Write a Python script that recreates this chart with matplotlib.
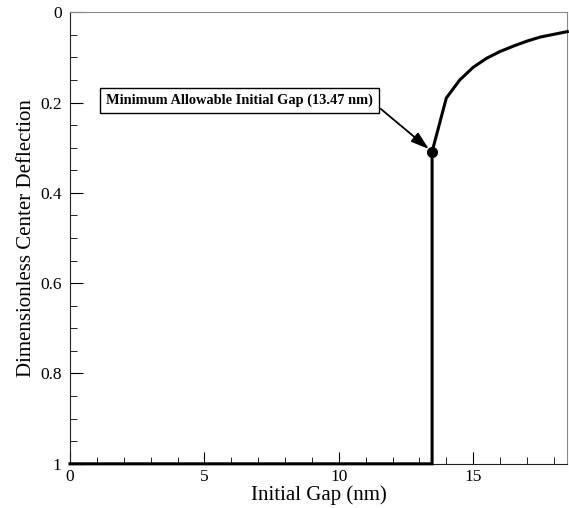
import numpy as np
import matplotlib.pyplot as plt
from matplotlib.ticker import MultipleLocator

plt.rcParams['font.family'] = ['Liberation Serif', 'DejaVu Serif']

# collapsed branch (deflection = 1) up to the minimum gap
gap_flat = [0.0, 13.47]
defl_flat = [1.0, 1.0]

# stable branch above the minimum allowable gap
gap_stable = [13.47, 14.0, 14.5, 15.0, 15.5, 16.0, 16.5, 17.0, 17.5, 18.0, 18.5]
defl_stable = [0.309, 0.19, 0.150, 0.122, 0.102, 0.087, 0.075, 0.064, 0.055, 0.049, 0.043]

min_gap = 13.47
min_defl = 0.309
note = 'Minimum Allowable Initial Gap (13.47 nm)'

fig = plt.figure(figsize=(5.69, 5.08), dpi=100)
ax = fig.add_axes([0.123, 0.087, 0.874, 0.889])

x = gap_flat + [min_gap] + gap_stable[1:]
y = defl_flat + [min_defl] + defl_stable[1:]
ax.plot(x, y, color='black', linewidth=2.2, solid_joinstyle='miter', clip_on=False, zorder=3)
ax.plot([min_gap], [min_defl], 'o', color='black', markersize=7, zorder=4)

# label box and arrow from its right edge to the point
ax.text(6.3, 0.196, note, ha='center', va='center', fontsize=10.4, fontweight='bold',
        bbox=dict(boxstyle='square,pad=0.4', facecolor='white', edgecolor='black', linewidth=1))
ax.annotate('', xy=(min_gap, min_defl), xytext=(11.56, 0.214),
            arrowprops=dict(arrowstyle='-|>,head_length=1.1,head_width=0.35', color='black',
                            linewidth=1.3, shrinkA=0, shrinkB=3))

ax.set_xlim(0, 18.5)
ax.set_ylim(1, 0)
ax.xaxis.set_major_locator(MultipleLocator(5))
ax.xaxis.set_minor_locator(MultipleLocator(1))
ax.yaxis.set_minor_locator(MultipleLocator(0.05))
ax.set_yticks([0, 0.2, 0.4, 0.6, 0.8, 1])
ax.set_yticklabels(['0', '0.2', '0.4', '0.6', '0.8', '1'])
ax.tick_params(which='both', direction='in', top=False, right=False, labelsize=12.5)
ax.tick_params(axis='x', which='major', pad=4)
ax.tick_params(axis='y', which='major', pad=6)
ax.tick_params(which='major', length=9)
ax.tick_params(which='minor', length=5)
for side in ['top', 'right']:
    ax.spines[side].set_color('#888888')
for side in ['left', 'bottom']:
    ax.spines[side].set_color('#222222')

ax.set_xlabel('Initial Gap (nm)', fontsize=15, labelpad=0)
ax.set_ylabel('Dimensionless Center Deflection', fontsize=15, labelpad=3)

plt.savefig('out.png', dpi=100)
